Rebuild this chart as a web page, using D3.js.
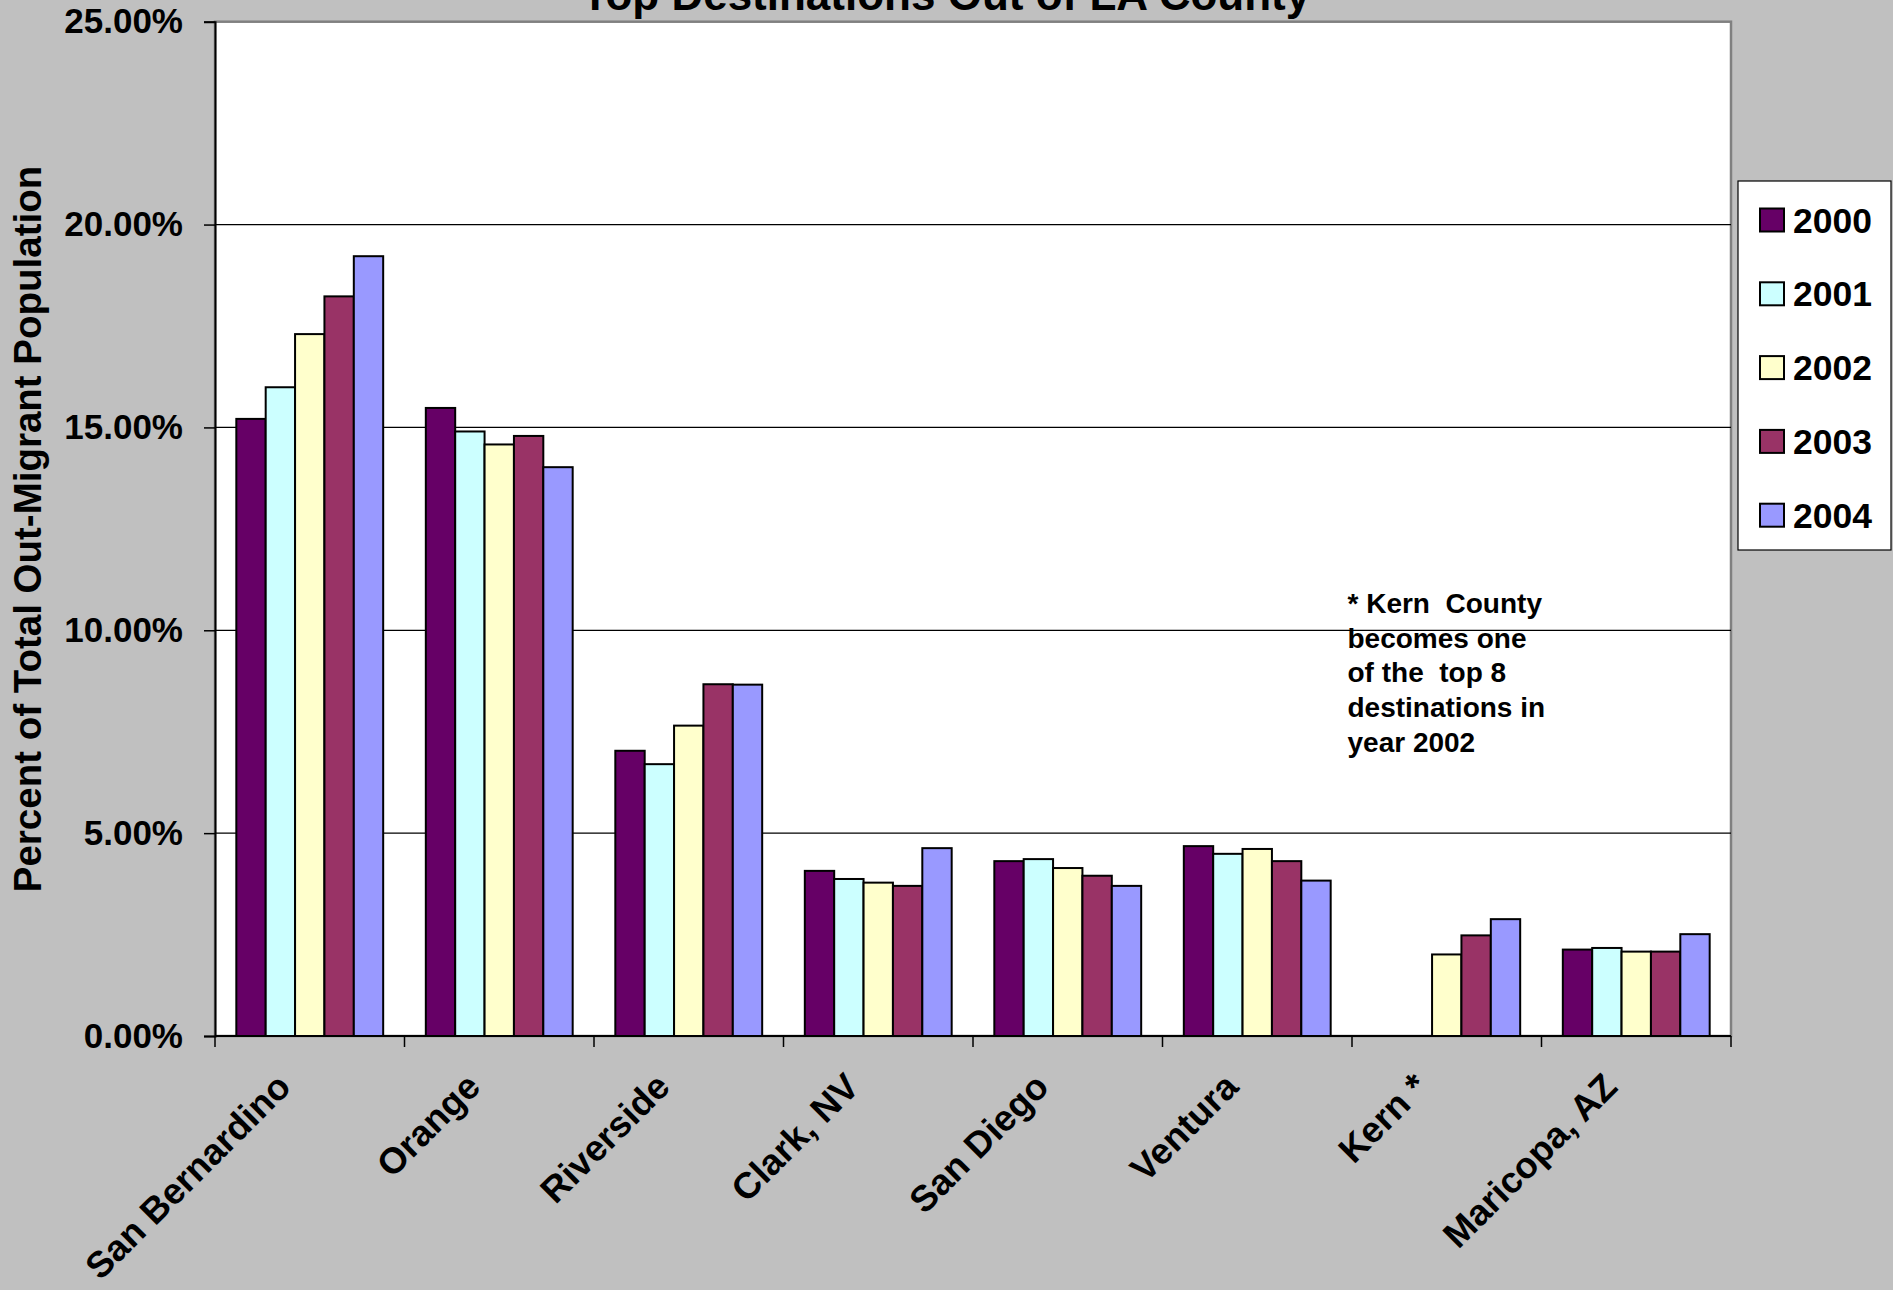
<!DOCTYPE html>
<html>
<head>
<meta charset="utf-8">
<script src="https://cdn.jsdelivr.net/npm/d3@7"></script>
<style>
  html, body { margin: 0; padding: 0; background: #c0c0c0; }
  svg { display: block; font-family: "Liberation Sans", Arial, sans-serif; font-weight: bold; }
</style>
</head>
<body>
<div id="chart"></div>
<script>
'use strict';

// ── Data ────────────────────────────────────────────────────────────────────
const categories = ['San Bernardino', 'Orange', 'Riverside', 'Clark, NV',
                    'San Diego', 'Ventura', 'Kern *', 'Maricopa, AZ'];
const years = ['2000', '2001', '2002', '2003', '2004'];

// percent of total out-migrant population, one array per year (null = not in top 8)
const v2000 = [15.21, 15.48, 7.03, 4.07, 4.31, 4.68, null, 2.13];
const v2001 = [15.99, 14.90, 6.70, 3.87, 4.36, 4.49, null, 2.17];
const v2002 = [17.30, 14.58, 7.65, 3.78, 4.14, 4.61, 2.01, 2.08];
const v2003 = [18.23, 14.79, 8.67, 3.70, 3.95, 4.31, 2.48, 2.08];
const v2004 = [19.22, 14.02, 8.66, 4.63, 3.70, 3.83, 2.88, 2.51];
const seriesValues = [v2000, v2001, v2002, v2003, v2004];

const yTicks = [0, 0.05, 0.10, 0.15, 0.20, 0.25];
const noteLines = ['* Kern  County', 'becomes one', 'of the  top 8', 'destinations in', 'year 2002'];

const COLORS = ['#660066', '#ccffff', '#ffffcc', '#993366', '#9999ff'];

// ── Layout ──────────────────────────────────────────────────────────────────
const W = 1893, H = 1290;
const PLOT = { left: 215, right: 1731, top: 21.7, bottom: 1036 };

const svg = d3.select('#chart').append('svg')
  .attr('width', W).attr('height', H);

svg.append('rect').attr('width', W).attr('height', H).attr('fill', '#c0c0c0');

// plot area
svg.append('rect')
  .attr('x', PLOT.left).attr('y', PLOT.top)
  .attr('width', PLOT.right - PLOT.left).attr('height', PLOT.bottom - PLOT.top)
  .attr('fill', '#ffffff')
  .attr('stroke', '#808080').attr('stroke-width', 2.5);

const x0 = d3.scaleBand()
  .domain(categories)
  .range([PLOT.left, PLOT.right])
  .paddingInner(0.225)
  .paddingOuter(0.1125);

const x1 = d3.scaleBand()
  .domain(years)
  .range([0, x0.bandwidth()]);

const y = d3.scaleLinear()
  .domain([0, 0.25])
  .range([PLOT.bottom, PLOT.top]);

// ── Gridlines ───────────────────────────────────────────────────────────────
svg.append('g')
  .selectAll('line')
  .data(yTicks.filter(t => t > 0 && t < 0.25))
  .enter().append('line')
  .attr('x1', PLOT.left).attr('x2', PLOT.right)
  .attr('y1', d => y(d)).attr('y2', d => y(d))
  .attr('stroke', '#000').attr('stroke-width', 1.2);

// ── Bars ────────────────────────────────────────────────────────────────────
const groups = svg.append('g')
  .selectAll('g')
  .data(categories)
  .enter().append('g')
  .attr('transform', d => `translate(${x0(d)},0)`);

groups.selectAll('rect')
  .data((c, ci) => years.map((yr, si) => ({ yr, si, v: seriesValues[si][ci] })))
  .enter()
  .filter(d => d.v != null)
  .append('rect')
  .attr('x', d => x1(d.yr))
  .attr('width', x1.bandwidth())
  .attr('y', d => y(d.v / 100))
  .attr('height', d => y(0) - y(d.v / 100))
  .attr('fill', d => COLORS[d.si])
  .attr('stroke', '#000')
  .attr('stroke-width', 2);

// ── Y axis ──────────────────────────────────────────────────────────────────
const yAxis = svg.append('g')
  .attr('transform', `translate(${PLOT.left},0)`)
  .call(d3.axisLeft(y).tickValues(yTicks).tickFormat(d3.format('.2%')).tickSize(11).tickPadding(21));

yAxis.select('.domain').attr('stroke', '#000').attr('stroke-width', 2);
yAxis.selectAll('.tick line').attr('stroke', '#000').attr('stroke-width', 1.5);
yAxis.selectAll('.tick text')
  .attr('font-size', 35).attr('font-weight', 'bold')
  .attr('font-family', '"Liberation Sans", Arial, sans-serif')
  .attr('fill', '#000');

// ── X axis ──────────────────────────────────────────────────────────────────
const xEdge = d3.scaleLinear().domain([0, categories.length]).range([PLOT.left, PLOT.right]);

svg.append('line')
  .attr('x1', PLOT.left).attr('x2', PLOT.right)
  .attr('y1', PLOT.bottom).attr('y2', PLOT.bottom)
  .attr('stroke', '#000').attr('stroke-width', 2);

svg.append('g')
  .selectAll('line')
  .data(d3.range(categories.length + 1))
  .enter().append('line')
  .attr('x1', d => xEdge(d)).attr('x2', d => xEdge(d))
  .attr('y1', PLOT.bottom).attr('y2', PLOT.bottom + 11)
  .attr('stroke', '#000').attr('stroke-width', 1.5);

svg.append('g')
  .selectAll('text')
  .data(categories)
  .enter().append('text')
  .attr('transform', d => `translate(${x0(d) + x0.bandwidth() / 2 - 17},${PLOT.bottom + 53}) rotate(-45)`)
  .attr('text-anchor', 'end')
  .attr('font-size', 36.5)
  .attr('fill', '#000')
  .text(d => d);

// ── Titles ──────────────────────────────────────────────────────────────────
svg.append('text')
  .attr('x', 946).attr('y', 10)
  .attr('text-anchor', 'middle')
  .attr('font-size', 44)
  .attr('fill', '#000')
  .text('Top Destinations Out of LA County');

svg.append('text')
  .attr('transform', 'translate(41,529) rotate(-90)')
  .attr('text-anchor', 'middle')
  .attr('font-size', 38.5)
  .attr('fill', '#000')
  .text('Percent of Total Out-Migrant Population');

// ── Note ────────────────────────────────────────────────────────────────────
svg.append('g')
  .selectAll('text')
  .data(noteLines)
  .enter().append('text')
  .attr('x', 1347.5)
  .attr('y', (d, i) => 613 + i * 34.7)
  .attr('font-size', 28)
  .attr('fill', '#000')
  .attr('xml:space', 'preserve')
  .style('white-space', 'pre')
  .text(d => d);

// ── Legend ──────────────────────────────────────────────────────────────────
const lg = svg.append('g');
lg.append('rect')
  .attr('x', 1738).attr('y', 181)
  .attr('width', 153).attr('height', 369)
  .attr('fill', '#ffffff')
  .attr('stroke', '#000').attr('stroke-width', 1.2);

const items = lg.selectAll('g.item')
  .data(years)
  .enter().append('g')
  .attr('class', 'item')
  .attr('transform', (d, i) => `translate(1760,${220 + i * 73.8})`);

items.append('rect')
  .attr('x', 0).attr('y', -11.5)
  .attr('width', 24).attr('height', 23)
  .attr('fill', (d, i) => COLORS[i])
  .attr('stroke', '#000').attr('stroke-width', 2);

items.append('text')
  .attr('x', 33).attr('y', 12.5)
  .attr('font-size', 35.5)
  .attr('fill', '#000')
  .text(d => d);
</script>
</body>
</html>
